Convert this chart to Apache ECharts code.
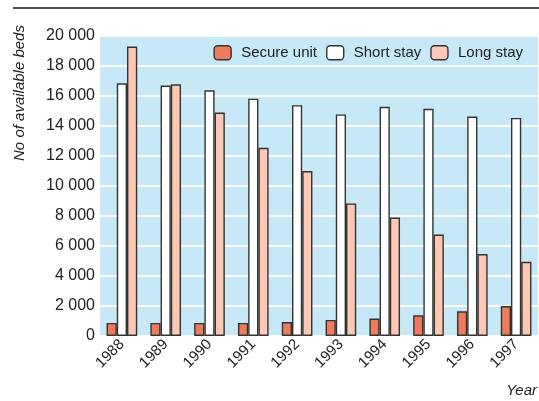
<!DOCTYPE html>
<html><head><meta charset="utf-8">
<script src="https://cdn.jsdelivr.net/npm/echarts@6/dist/echarts.min.js"></script>
<style>html,body{margin:0;padding:0;background:#fff}#c{width:539px;height:401px}</style>
</head><body><div id="c"></div>
<script>
const years = ['1988','1989','1990','1991','1992','1993','1994','1995','1996','1997'];
const secureUnit = [870, 870, 870, 870, 930, 1070, 1160, 1380, 1650, 2000];
const shortStay = [16850, 16700, 16380, 15820, 15390, 14770, 15280, 15150, 14630, 14540];
const longStay = [19300, 16780, 14900, 12550, 11000, 8840, 7900, 6760, 5460, 4950];
const yTicks = {min: 0, max: 20000, interval: 2000};

const FONT = '"Liberation Sans", Arial, sans-serif';
const FS = 16;
const chart = echarts.init(document.getElementById('c'), null, {renderer: 'canvas'});
const border = {borderColor: '#333333', borderWidth: 1.4};
chart.setOption({
  animation: false,
  textStyle: {fontFamily: FONT},
  grid: {left: 100, right: 1, top: 36, bottom: 65, show: true, backgroundColor: '#c6e8f7', borderWidth: 0},
  legend: {
    top: 40, right: 11, itemWidth: 17, itemHeight: 14, itemGap: 9,
    itemStyle: {borderColor: '#333333', borderWidth: 1.4},
    textStyle: {fontFamily: FONT, fontSize: 15, color: '#222', padding: [0, 0, 0, 5]},
    data: ['Secure unit', 'Short stay', 'Long stay']
  },
  xAxis: {
    type: 'category', data: years,
    axisLine: {show: false}, axisTick: {show: false},
    axisLabel: {rotate: 45, fontSize: 15, color: '#222', margin: 6, fontFamily: FONT}
  },
  yAxis: {
    type: 'value', min: yTicks.min, max: yTicks.max, interval: yTicks.interval,
    axisLine: {show: false}, axisTick: {show: false},
    splitLine: {lineStyle: {color: '#ffffff', width: 2}},
    axisLabel: {fontSize: FS, color: '#222', margin: 5, fontFamily: FONT,
      formatter: v => v >= 1000 ? Math.floor(v/1000) + ' ' + String(v % 1000).padStart(3, '0') : String(v)}
  },
  series: [
    {name: 'Secure unit', type: 'bar', data: secureUnit, barGap: '0%', barCategoryGap: '30%',
     itemStyle: Object.assign({color: '#f07a5c'}, border)},
    {name: 'Short stay', type: 'bar', data: shortStay, barGap: '0%', barCategoryGap: '30%',
     itemStyle: Object.assign({color: '#ffffff'}, border)},
    {name: 'Long stay', type: 'bar', data: longStay, barGap: '0%', barCategoryGap: '30%',
     itemStyle: Object.assign({color: '#fcc8b4'}, border)}
  ],
  graphic: [
    {type: 'line', shape: {x1: 13, y1: 8, x2: 539, y2: 8}, style: {stroke: '#111', lineWidth: 1.5}},
    {type: 'text', x: 20, y: 93, rotation: Math.PI / 2,
     style: {text: 'No of available beds', fontSize: 15, fontStyle: 'italic', fill: '#222', fontFamily: FONT, align: 'center', verticalAlign: 'middle'}},
    {type: 'text', right: 2, top: 383, style: {text: 'Year', fontSize: 15, fontStyle: 'italic', fill: '#222', fontFamily: FONT}}
  ]
});
</script></body></html>
